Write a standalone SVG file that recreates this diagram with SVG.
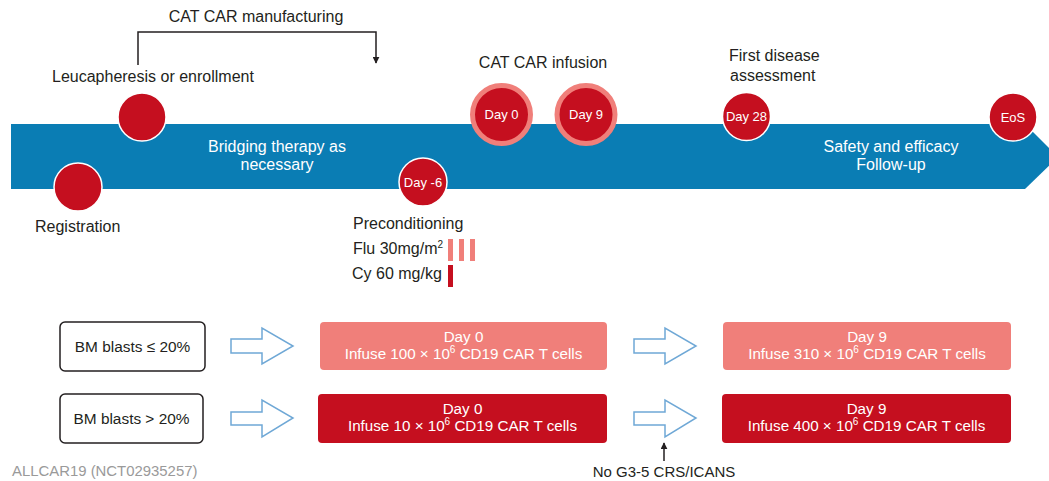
<svg xmlns="http://www.w3.org/2000/svg" width="1049" height="481" viewBox="0 0 1049 481">
<defs>
<style>
text{font-family:"Liberation Sans",Arial,sans-serif;}
.t{font-size:16px;fill:#231f20;}
.w{font-size:16px;fill:#fff;}
.b{font-size:15.2px;fill:#fff;text-anchor:middle;}
.c{font-size:13px;fill:#fff;text-anchor:middle;}
.dot{fill:#c50f1f;stroke:#fff;stroke-width:1.5;}
.ring{fill:#c50f1f;stroke:#f07f7a;stroke-width:5;}
.pink{fill:#f07f7a;}
.red{fill:#c50f1f;}
.cond{fill:#fff;stroke:#231f20;stroke-width:1.5;}
.hollow{fill:#fff;stroke:#6fa8d6;stroke-width:1.5;stroke-linejoin:miter;}
.ln{fill:none;stroke:#231f20;stroke-width:1.5;}
</style>
<marker id="ah" viewBox="0 0 10 10" refX="9" refY="5" markerWidth="7" markerHeight="7" markerUnits="userSpaceOnUse" orient="auto">
<path d="M0,0 L10,5 L0,10 z" fill="#231f20"/>
</marker>
</defs>
<rect width="1049" height="481" fill="#fff"/>

<g id="timeline">
<polygon points="11,124 1025,124 1058,157 1025,189 11,189" fill="#0a7db4"/>
<text class="w" x="277" y="152" text-anchor="middle">Bridging therapy as</text>
<text class="w" x="277" y="170" text-anchor="middle">necessary</text>
<text class="w" x="891" y="152" text-anchor="middle">Safety and efficacy</text>
<text class="w" x="891" y="170" text-anchor="middle">Follow-up</text>
</g>

<g id="connectors">
<polyline class="ln" points="138,65 138,32 376,32 376,63" marker-end="url(#ah)"/>
<line class="ln" x1="664" y1="461" x2="664" y2="443" marker-end="url(#ah)"/>
<path class="hollow" d="M231,339 H262 V328 L293,346 L262,364 V353 H231 Z"/>
<path class="hollow" d="M231,412 H262 V400 L293,418 L262,437 V425 H231 Z"/>
<path class="hollow" d="M634,339 H665 V328 L696,346 L665,364 V353 H634 Z"/>
<path class="hollow" d="M634,412 H665 V400 L696,418 L665,437 V425 H634 Z"/>
</g>

<g id="manufacturing">
<text class="t" x="256" y="22" text-anchor="middle">CAT CAR manufacturing</text>
</g>

<g id="leucapheresis">
<circle class="dot" cx="142" cy="117" r="24"/>
<text class="t" x="52" y="82">Leucapheresis or enrollment</text>
</g>

<g id="registration">
<circle class="dot" cx="78" cy="187" r="24"/>
<text class="t" x="35" y="232">Registration</text>
</g>

<g id="day-6">
<circle class="dot" cx="423" cy="182" r="24"/>
<text class="c" x="423" y="186.5">Day -6</text>
</g>

<g id="preconditioning">
<text class="t" x="353" y="229">Preconditioning</text>
<text class="t" x="353" y="254">Flu 30mg/m<tspan font-size="10" dy="-6">2</tspan></text>
<text class="t" x="352" y="279">Cy 60 mg/kg</text>
<rect class="pink" x="448" y="239" width="5" height="22"/>
<rect class="pink" x="459" y="239" width="5" height="22"/>
<rect class="pink" x="470" y="239" width="5" height="22"/>
<rect class="red" x="448" y="265" width="5" height="22"/>
</g>

<g id="infusion">
<text class="t" x="543" y="68" text-anchor="middle">CAT CAR infusion</text>
</g>

<g id="day0">
<circle class="ring" cx="501.5" cy="114.5" r="29"/>
<text class="c" x="501.5" y="119">Day 0</text>
</g>

<g id="day9">
<circle class="ring" cx="586" cy="114.5" r="29"/>
<text class="c" x="586" y="119">Day 9</text>
</g>

<g id="day28">
<circle class="dot" cx="746.5" cy="116.5" r="24"/>
<text class="c" x="746.5" y="121">Day 28</text>
<text class="t" x="729" y="61">First disease</text>
<text class="t" x="730" y="81">assessment</text>
</g>

<g id="eos">
<circle class="dot" cx="1013" cy="117" r="24"/>
<text class="c" x="1013" y="121.5">EoS</text>
</g>

<g id="bm-low">
<rect class="cond" x="60" y="322" width="145" height="49" rx="5"/>
<text x="132.5" y="351.5" font-size="15.4" fill="#231f20" text-anchor="middle">BM blasts ≤ 20%</text>
</g>

<g id="bm-high">
<rect class="cond" x="60" y="394" width="143" height="49" rx="5"/>
<text x="131.5" y="423.5" font-size="15.4" fill="#231f20" text-anchor="middle">BM blasts &gt; 20%</text>
</g>

<g id="low-day0">
<rect class="pink" x="320" y="322" width="287" height="48" rx="4"/>
<text class="b" x="463.5" y="342">Day 0</text>
<text class="b" x="463.5" y="359">Infuse 100 × 10<tspan font-size="10" dy="-6">6</tspan><tspan dy="6"> CD19 CAR T cells</tspan></text>
</g>

<g id="high-day0">
<rect class="red" x="318" y="394" width="289" height="49" rx="4"/>
<text class="b" x="462.5" y="414">Day 0</text>
<text class="b" x="462.5" y="431">Infuse 10 × 10<tspan font-size="10" dy="-6">6</tspan><tspan dy="6"> CD19 CAR T cells</tspan></text>
</g>

<g id="low-day9">
<rect class="pink" x="723" y="322" width="288" height="48" rx="4"/>
<text class="b" x="867" y="342">Day 9</text>
<text class="b" x="867" y="359">Infuse 310 × 10<tspan font-size="10" dy="-6">6</tspan><tspan dy="6"> CD19 CAR T cells</tspan></text>
</g>

<g id="high-day9">
<rect class="red" x="722" y="394" width="289" height="49" rx="4"/>
<text class="b" x="866.5" y="414">Day 9</text>
<text class="b" x="866.5" y="431">Infuse 400 × 10<tspan font-size="10" dy="-6">6</tspan><tspan dy="6"> CD19 CAR T cells</tspan></text>
</g>

<g id="no-crs">
<text x="664" y="477" font-size="15" fill="#231f20" text-anchor="middle">No G3-5 CRS/ICANS</text>
</g>

<g id="trial-id">
<text x="12" y="476" font-size="14.9" fill="#9a9a9a">ALLCAR19 (NCT02935257)</text>
</g>
</svg>
